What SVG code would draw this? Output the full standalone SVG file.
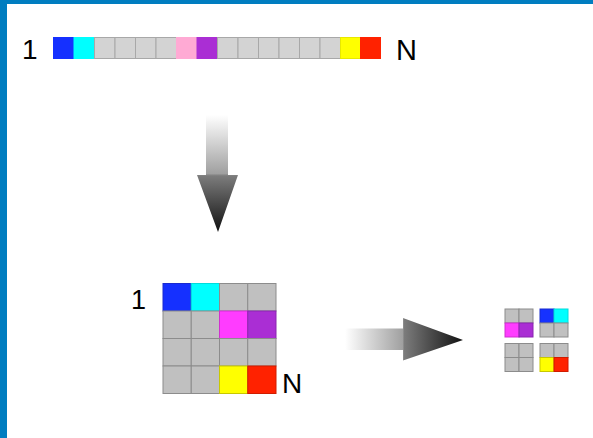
<svg xmlns="http://www.w3.org/2000/svg" width="593" height="438" viewBox="0 0 593 438">
  <style>
    .lbl { font-family: "Liberation Sans", Arial, sans-serif; fill: #000; }
    .g1 { fill: #d3d3d3; stroke: #a8a8a8; stroke-width: 1; }
    .g2 { fill: #c0c0c0; stroke: #8c8c8c; stroke-width: 1; }
    .c { stroke-width: 1; }
  </style>
  <defs>
    <linearGradient id="gradDown" x1="0" y1="115" x2="0" y2="232" gradientUnits="userSpaceOnUse">
      <stop offset="0" stop-color="#ffffff"/>
      <stop offset="0.5" stop-color="#a0a0a0"/>
      <stop offset="0.52" stop-color="#7c7c7c"/>
      <stop offset="1" stop-color="#111111"/>
    </linearGradient>
    <linearGradient id="gradRight" x1="345" y1="0" x2="463" y2="0" gradientUnits="userSpaceOnUse">
      <stop offset="0" stop-color="#ffffff"/>
      <stop offset="0.49" stop-color="#a0a0a0"/>
      <stop offset="0.5" stop-color="#7c7c7c"/>
      <stop offset="1" stop-color="#111111"/>
    </linearGradient>
    <filter id="soft" x="-10%" y="-10%" width="120%" height="120%">
      <feGaussianBlur stdDeviation="0.5"/>
    </filter>
  </defs>

  <!-- page background and frame -->
  <rect x="0" y="0" width="593" height="438" fill="#ffffff"/>
  <rect x="0" y="0" width="593" height="4" fill="#007dc0"/>
  <rect x="0" y="0" width="7" height="438" fill="#007dc0"/>

  <!-- linear array 1..N -->
  <g id="array1d">
    <text class="lbl" x="22" y="59" font-size="28">1</text>
    <rect x="53.5" y="37.5" width="20.5" height="21" fill="#1530ff" stroke="#1530ff"/>
    <rect x="74" y="37.5" width="20.5" height="21" fill="#00ffff" stroke="#00ffff"/>
    <rect class="g1" x="94.5" y="37.5" width="20.5" height="21"/>
    <rect class="g1" x="115" y="37.5" width="20.5" height="21"/>
    <rect class="g1" x="135.5" y="37.5" width="20.5" height="21"/>
    <rect class="g1" x="156" y="37.5" width="20.5" height="21"/>
    <rect x="176.5" y="37.5" width="20.5" height="21" fill="#ffaad4" stroke="#ffaad4"/>
    <rect x="197" y="37.5" width="20.5" height="21" fill="#aa2ed4" stroke="#aa2ed4"/>
    <rect class="g1" x="217.5" y="37.5" width="20.5" height="21"/>
    <rect class="g1" x="238" y="37.5" width="20.5" height="21"/>
    <rect class="g1" x="258.5" y="37.5" width="20.5" height="21"/>
    <rect class="g1" x="279" y="37.5" width="20.5" height="21"/>
    <rect class="g1" x="299.5" y="37.5" width="20.5" height="21"/>
    <rect class="g1" x="320" y="37.5" width="20.5" height="21"/>
    <rect x="340.5" y="37.5" width="20" height="21" fill="#ffff00" stroke="#e8e800"/>
    <rect x="360.5" y="37.5" width="20" height="21" fill="#ff2200" stroke="#ff2200"/>
    <text class="lbl" x="396" y="60" font-size="29">N</text>
  </g>

  <!-- 4x4 matrix -->
  <g id="matrix">
    <text class="lbl" x="131" y="309" font-size="27">1</text>
    <rect x="163" y="283.5" width="28.25" height="27.5" fill="#1530ff" stroke="#1a2ad0"/>
    <rect x="191.25" y="283.5" width="28.25" height="27.5" fill="#00ffff" stroke="#00dcdc"/>
    <rect class="g2" x="219.5" y="283.5" width="28.25" height="27.5"/>
    <rect class="g2" x="247.75" y="283.5" width="28.25" height="27.5"/>

    <rect class="g2" x="163" y="311" width="28.25" height="27.5"/>
    <rect class="g2" x="191.25" y="311" width="28.25" height="27.5"/>
    <rect x="219.5" y="311" width="28.25" height="27.5" fill="#ff3cff" stroke="#d030d0"/>
    <rect x="247.75" y="311" width="28.25" height="27.5" fill="#aa2ed4" stroke="#8a26b0"/>

    <rect class="g2" x="163" y="338.5" width="28.25" height="27.5"/>
    <rect class="g2" x="191.25" y="338.5" width="28.25" height="27.5"/>
    <rect class="g2" x="219.5" y="338.5" width="28.25" height="27.5"/>
    <rect class="g2" x="247.75" y="338.5" width="28.25" height="27.5"/>

    <rect class="g2" x="163" y="366" width="28.25" height="27.5"/>
    <rect class="g2" x="191.25" y="366" width="28.25" height="27.5"/>
    <rect x="219.5" y="366" width="28.25" height="27.5" fill="#ffff00" stroke="#c8c800"/>
    <rect x="247.75" y="366" width="28.25" height="27.5" fill="#ff2200" stroke="#d01c00"/>
    <text class="lbl" x="282" y="393" font-size="28">N</text>
  </g>

  <!-- 2x2 tiles -->
  <g id="tiles" filter="url(#soft)">
    <g id="tile-tl">
      <rect class="g2" x="505" y="309" width="14" height="14"/>
      <rect class="g2" x="519" y="309" width="14" height="14"/>
      <rect x="505" y="323" width="14" height="14" fill="#ff3cff" stroke="#d030d0"/>
      <rect x="519" y="323" width="14" height="14" fill="#aa2ed4" stroke="#8a26b0"/>
    </g>
    <g id="tile-tr">
      <rect x="540" y="309" width="14" height="14" fill="#1530ff" stroke="#1a2ad0"/>
      <rect x="554" y="309" width="14" height="14" fill="#00ffff" stroke="#00dcdc"/>
      <rect class="g2" x="540" y="323" width="14" height="14"/>
      <rect class="g2" x="554" y="323" width="14" height="14"/>
    </g>
    <g id="tile-bl">
      <rect class="g2" x="505" y="343.5" width="14" height="14"/>
      <rect class="g2" x="519" y="343.5" width="14" height="14"/>
      <rect class="g2" x="505" y="357.5" width="14" height="14"/>
      <rect class="g2" x="519" y="357.5" width="14" height="14"/>
    </g>
    <g id="tile-br">
      <rect class="g2" x="540" y="343.5" width="14" height="14"/>
      <rect class="g2" x="554" y="343.5" width="14" height="14"/>
      <rect x="540" y="357.5" width="14" height="14" fill="#ffff00" stroke="#c8c800"/>
      <rect x="554" y="357.5" width="14" height="14" fill="#ff2200" stroke="#d01c00"/>
    </g>
  </g>

  <!-- block arrows -->
  <g id="connectors">
    <polygon points="206,115 228,115 228,175 238,175 218,232 197,175 206,175" fill="url(#gradDown)"/>
    <polygon points="345,328.5 403,328.5 403,318 463,340 403,360.5 403,350 345,350" fill="url(#gradRight)"/>
  </g>
</svg>
